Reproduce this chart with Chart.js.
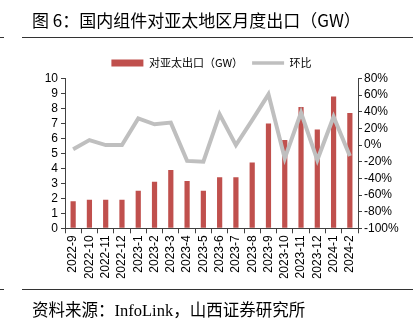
<!DOCTYPE html>
<html>
<head>
<meta charset="utf-8">
<script src="https://cdn.jsdelivr.net/npm/chart.js@4.4.0/dist/chart.umd.min.js"></script>
<style>
  html, body { margin: 0; padding: 0; background: #fff; }
  #wrap { position: relative; width: 418px; height: 327px; overflow: hidden; }
  #chart { position: absolute; left: 0; top: 0; }
  .rule { position: absolute; height: 1px; background: #333; }
  #title { position: absolute; left: 32px; top: 7px; font: 17px "Noto Sans CJK SC"; color: #000; white-space: nowrap; }
  #source { position: absolute; left: 32px; top: 297px; font: 16.5px "Liberation Serif", "Noto Sans CJK SC"; color: #000; white-space: nowrap; }
</style>
</head>
<body>
<div id="wrap">
  <canvas id="chart" width="418" height="327"></canvas>
  <div id="title">图 6：国内组件对亚太地区月度出口（GW）</div>
  <div class="rule" style="left:0;width:4px;top:37px"></div>
  <div class="rule" style="left:22px;width:391px;top:37px"></div>
  <div class="rule" style="left:0;width:4px;top:289px"></div>
  <div class="rule" style="left:22px;width:391px;top:289px"></div>
  <div id="source">资料来源：InfoLink，山西证券研究所</div>
</div>
<script>
const months = ['2022-9', '2022-10', '2022-11', '2022-12', '2023-1', '2023-2', '2023-3', '2023-4', '2023-5',
  '2023-6', '2023-7', '2023-8', '2023-9', '2023-10', '2023-11', '2023-12', '2024-1', '2024-2']
const exportGW = [1.8, 1.9, 1.9, 1.9, 2.5, 3.1, 3.9, 3.15, 2.5, 3.4, 3.4, 4.4, 7.0, 5.9, 8.1, 6.6, 8.8, 7.7]
const momPct = [-5, 6, 0, 0, 32, 25, 27, -19, -20, 37, 0, 30, 61, -16, 39, -18, 34, -13]

const barColor = '#C0504D'
const lineColor = '#BFBFBF'
const axisColor = '#404040'

Chart.defaults.font.family = '"Liberation Sans", Arial, sans-serif'
Chart.defaults.font.size = 12
Chart.defaults.color = '#000'

// axis look shared by all three scales
const axisGrid = { drawOnChartArea: false, drawTicks: true, tickLength: 4, color: axisColor }
const axisBorder = { display: true, color: axisColor, width: 1 }

const config = {
  type: 'bar',
  data: {
    labels: months,
    datasets: [
      {
        label: '对亚太出口（GW）',
        data: exportGW,
        backgroundColor: barColor,
        barPercentage: 0.32,
        categoryPercentage: 1,
        yAxisID: 'y',
        order: 1
      },
      {
        type: 'line',
        label: '环比',
        data: momPct,
        borderColor: lineColor,
        borderWidth: 4,
        pointRadius: 0,
        tension: 0,
        yAxisID: 'y2',
        order: 0
      }
    ]
  },
  options: {
    responsive: false,
    animation: false,
    layout: { padding: { top: 48.5, left: 20, right: 15, bottom: 48.7 } },
    plugins: {
      tooltip: { enabled: false },
      legend: {
        position: 'top',
        labels: {
          usePointStyle: true,
          pointStyleWidth: 32,
          boxHeight: 7,
          padding: 9,
          font: { family: '"Noto Sans CJK SC"', size: 11 },
          color: '#000',
          generateLabels: function (chart) {
            const ds = chart.data.datasets
            return [
              { text: ds[0].label, fillStyle: barColor, strokeStyle: barColor, lineWidth: 0, pointStyle: 'rect', datasetIndex: 0 },
              { text: ds[1].label, fillStyle: lineColor, strokeStyle: lineColor, lineWidth: 3.5, pointStyle: 'line', datasetIndex: 1 }
            ]
          }
        }
      }
    },
    scales: {
      x: {
        grid: Object.assign({}, axisGrid, { offset: true, tickLength: 5 }),
        border: axisBorder,
        ticks: { autoSkip: false, maxRotation: 90, minRotation: 90, padding: 2 },
        afterFit: function (scale) { scale.height = 50 }
      },
      y: {
        position: 'left',
        min: 0,
        max: 10,
        grid: axisGrid,
        border: axisBorder,
        ticks: { stepSize: 1, padding: 3, autoSkip: false },
        afterFit: function (scale) { scale.width = 45 }
      },
      y2: {
        position: 'right',
        min: -100,
        max: 80,
        grid: axisGrid,
        border: axisBorder,
        ticks: {
          stepSize: 20,
          padding: 2,
          autoSkip: false,
          callback: function (v) { return v + '%' }
        },
        afterFit: function (scale) { scale.width = 45 }
      }
    }
  }
}

new Chart(document.getElementById('chart'), config)
</script>
</body>
</html>
